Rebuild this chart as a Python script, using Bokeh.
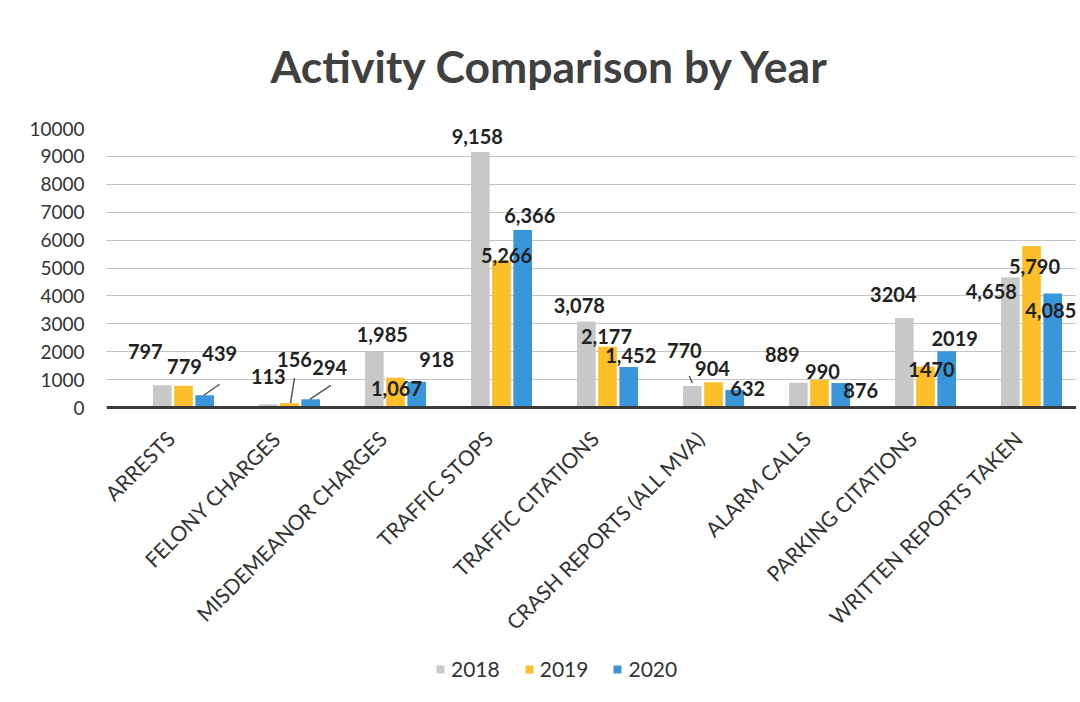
from math import pi
from bokeh.plotting import figure
from bokeh.models import (ColumnDataSource, Legend, LegendItem, Range1d, FixedTicker, Span)
from bokeh.transform import dodge
from bokeh.core.properties import value
from bokeh.embed import file_html
from bokeh.resources import INLINE

# ---------------- data ----------------
categories = ["ARRESTS", "FELONY CHARGES", "MISDEMEANOR CHARGES", "TRAFFIC STOPS",
              "TRAFFIC CITATIONS", "CRASH REPORTS (ALL MVA)", "ALARM CALLS",
              "PARKING CITATIONS", "WRITTEN REPORTS TAKEN"]
years = ["2018", "2019", "2020"]
v2018 = [797, 113, 1985, 9158, 3078, 770, 889, 3204, 4658]
v2019 = [779, 156, 1067, 5266, 2177, 904, 990, 1470, 5790]
v2020 = [439, 294, 918, 6366, 1452, 632, 876, 2019, 4085]
lab2018 = ["797", "113", "1,985", "9,158", "3,078", "770", "889", "3204", "4,658"]
lab2019 = ["779", "156", "1,067", "5,266", "2,177", "904", "990", "1470", "5,790"]
lab2020 = ["439", "294", "918", "6,366", "1,452", "632", "876", "2019", "4,085"]
y_ticks = [0, 1000, 2000, 3000, 4000, 5000, 6000, 7000, 8000, 9000, 10000]
y_max = 10000

# ---------------- style ----------------
colors = ["#c8c8c8", "#fcbf2a", "#3996da"]
offsets = [-0.2, 0.0, 0.2]
bar_w = 0.176
FONT = "Lato"
# data-label placement (screen px) relative to bar top
dx = [[-17, 0, 8, -3, -7, -8, -16, -11, -19],
      [1, 5, 1, 5, -1, -1, 3, 6, 3],
      [15, 19, 20, 7, 2, 13, 20, 8, -2]]
dy = [[-34, -28, -18, -15, -16, -36, -28, -24, 14],
      [-19, -44, 11, -5, -10, -14, -8, 3, 21],
      [-42, -32, -22, -14, -11, -1, 7, -13, 17]]
# leader lines: (series, category index, x0px, y0px, x1px, y1px) relative to bar top
leaders = [(2, 0, -1, 0, 15, 11), (1, 1, 1, 0, 5, 25), (2, 1, -1, 0, 20, 14), (0, 5, 0, 3, -3, 10)]

CAT_PX = 106      # pixels per category
FIRST_PX = 77     # first category centre, px from frame left
FW = 970          # frame width
PLOT_H = 279      # pixels from 0 to y_max
FH = 568          # frame height (extends below zero for category labels + legend)
ML, MT = 106, 126
px_x = 1.0 / CAT_PX
px_y = y_max / PLOT_H
x_start = -FIRST_PX * px_x
x_end = x_start + FW * px_x
y_start = -(FH - PLOT_H) * px_y

p = figure(x_range=Range1d(x_start, x_end), y_range=Range1d(y_start, y_max),
           frame_width=FW, frame_height=FH,
           output_backend="svg", toolbar_location=None,
           min_border_left=ML, min_border_right=0, min_border_top=MT, min_border_bottom=0,
           title="Activity Comparison by Year")
p.background_fill_color = "white"
p.border_fill_color = "white"
p.outline_line_color = None

p.title.align = "left"
p.title.text_font = FONT
p.title.text_font_size = "44.5px"
p.title.text_font_style = "bold"
p.title.text_color = "#404040"
p.title.standoff = 73
p.title.offset = 164

xs = list(range(len(categories)))
series = [v2018, v2019, v2020]
labels = [lab2018, lab2019, lab2020]
sources = []
renderers = []
for i, yr in enumerate(years):
    src = ColumnDataSource(dict(x=xs, val=series[i], lab=labels[i], dx=dx[i], dy=dy[i]))
    sources.append(src)
    r = p.vbar(x=dodge("x", offsets[i]), top="val", width=bar_w,
               source=src, fill_color=colors[i], line_color=None)
    renderers.append(r)

for i in range(3):
    p.text(x=dodge("x", offsets[i]), y="val", text="lab",
           x_offset="dx", y_offset="dy", source=sources[i],
           text_font=value(FONT), text_font_size="20px", text_font_style="bold",
           text_color="#222222", text_align="center", text_baseline="middle")

# leader lines
lx0, ly0, lx1, ly1 = [], [], [], []
for s, c, x0, y0, x1, y1 in leaders:
    xc = xs[c] + offsets[s]
    base = series[s][c]
    lx0.append(xc + x0 * px_x)
    ly0.append(base + y0 * px_y)
    lx1.append(xc + x1 * px_x)
    ly1.append(base + y1 * px_y)
p.segment(x0=lx0, y0=ly0, x1=lx1, y1=ly1, line_color="#555555", line_width=1.5)

# category labels (rotated, below the zero line)
cat_src = ColumnDataSource(dict(x=xs, y=[0] * len(categories), cat=categories))
p.text(x="x", y="y", text="cat", source=cat_src, angle=pi / 4,
       x_offset=-13, y_offset=27,
       text_font=value(FONT), text_font_size="21px", text_color="#333333",
       text_align="right", text_baseline="middle")

# zero baseline
p.add_layout(Span(location=0, dimension="width", line_color="#3a3a3a", line_width=3))

# axes
p.xaxis.visible = False
p.yaxis.ticker = FixedTicker(ticks=y_ticks)
p.yaxis.axis_line_color = None
p.yaxis.major_tick_line_color = None
p.yaxis.minor_tick_line_color = None
p.yaxis.major_label_text_font = FONT
p.yaxis.major_label_text_font_size = "19px"
p.yaxis.major_label_text_color = "#333333"
p.yaxis.major_label_standoff = 16

p.xgrid.grid_line_color = None
p.ygrid.grid_line_color = "#c4c4c4"
p.ygrid.grid_line_width = 1

legend = Legend(items=[LegendItem(label=years[i], renderers=[renderers[i]]) for i in range(3)],
                orientation="horizontal", location=(329, 15))
legend.glyph_width = 10
legend.glyph_height = 10
legend.label_text_font = FONT
legend.label_text_font_size = "21px"
legend.label_text_color = "#333333"
legend.label_standoff = 6
legend.spacing = 24
legend.padding = 4
legend.margin = 0
legend.border_line_color = None
legend.background_fill_alpha = 0
p.add_layout(legend, "center")

open("out.html", "w").write(file_html(p, INLINE))
